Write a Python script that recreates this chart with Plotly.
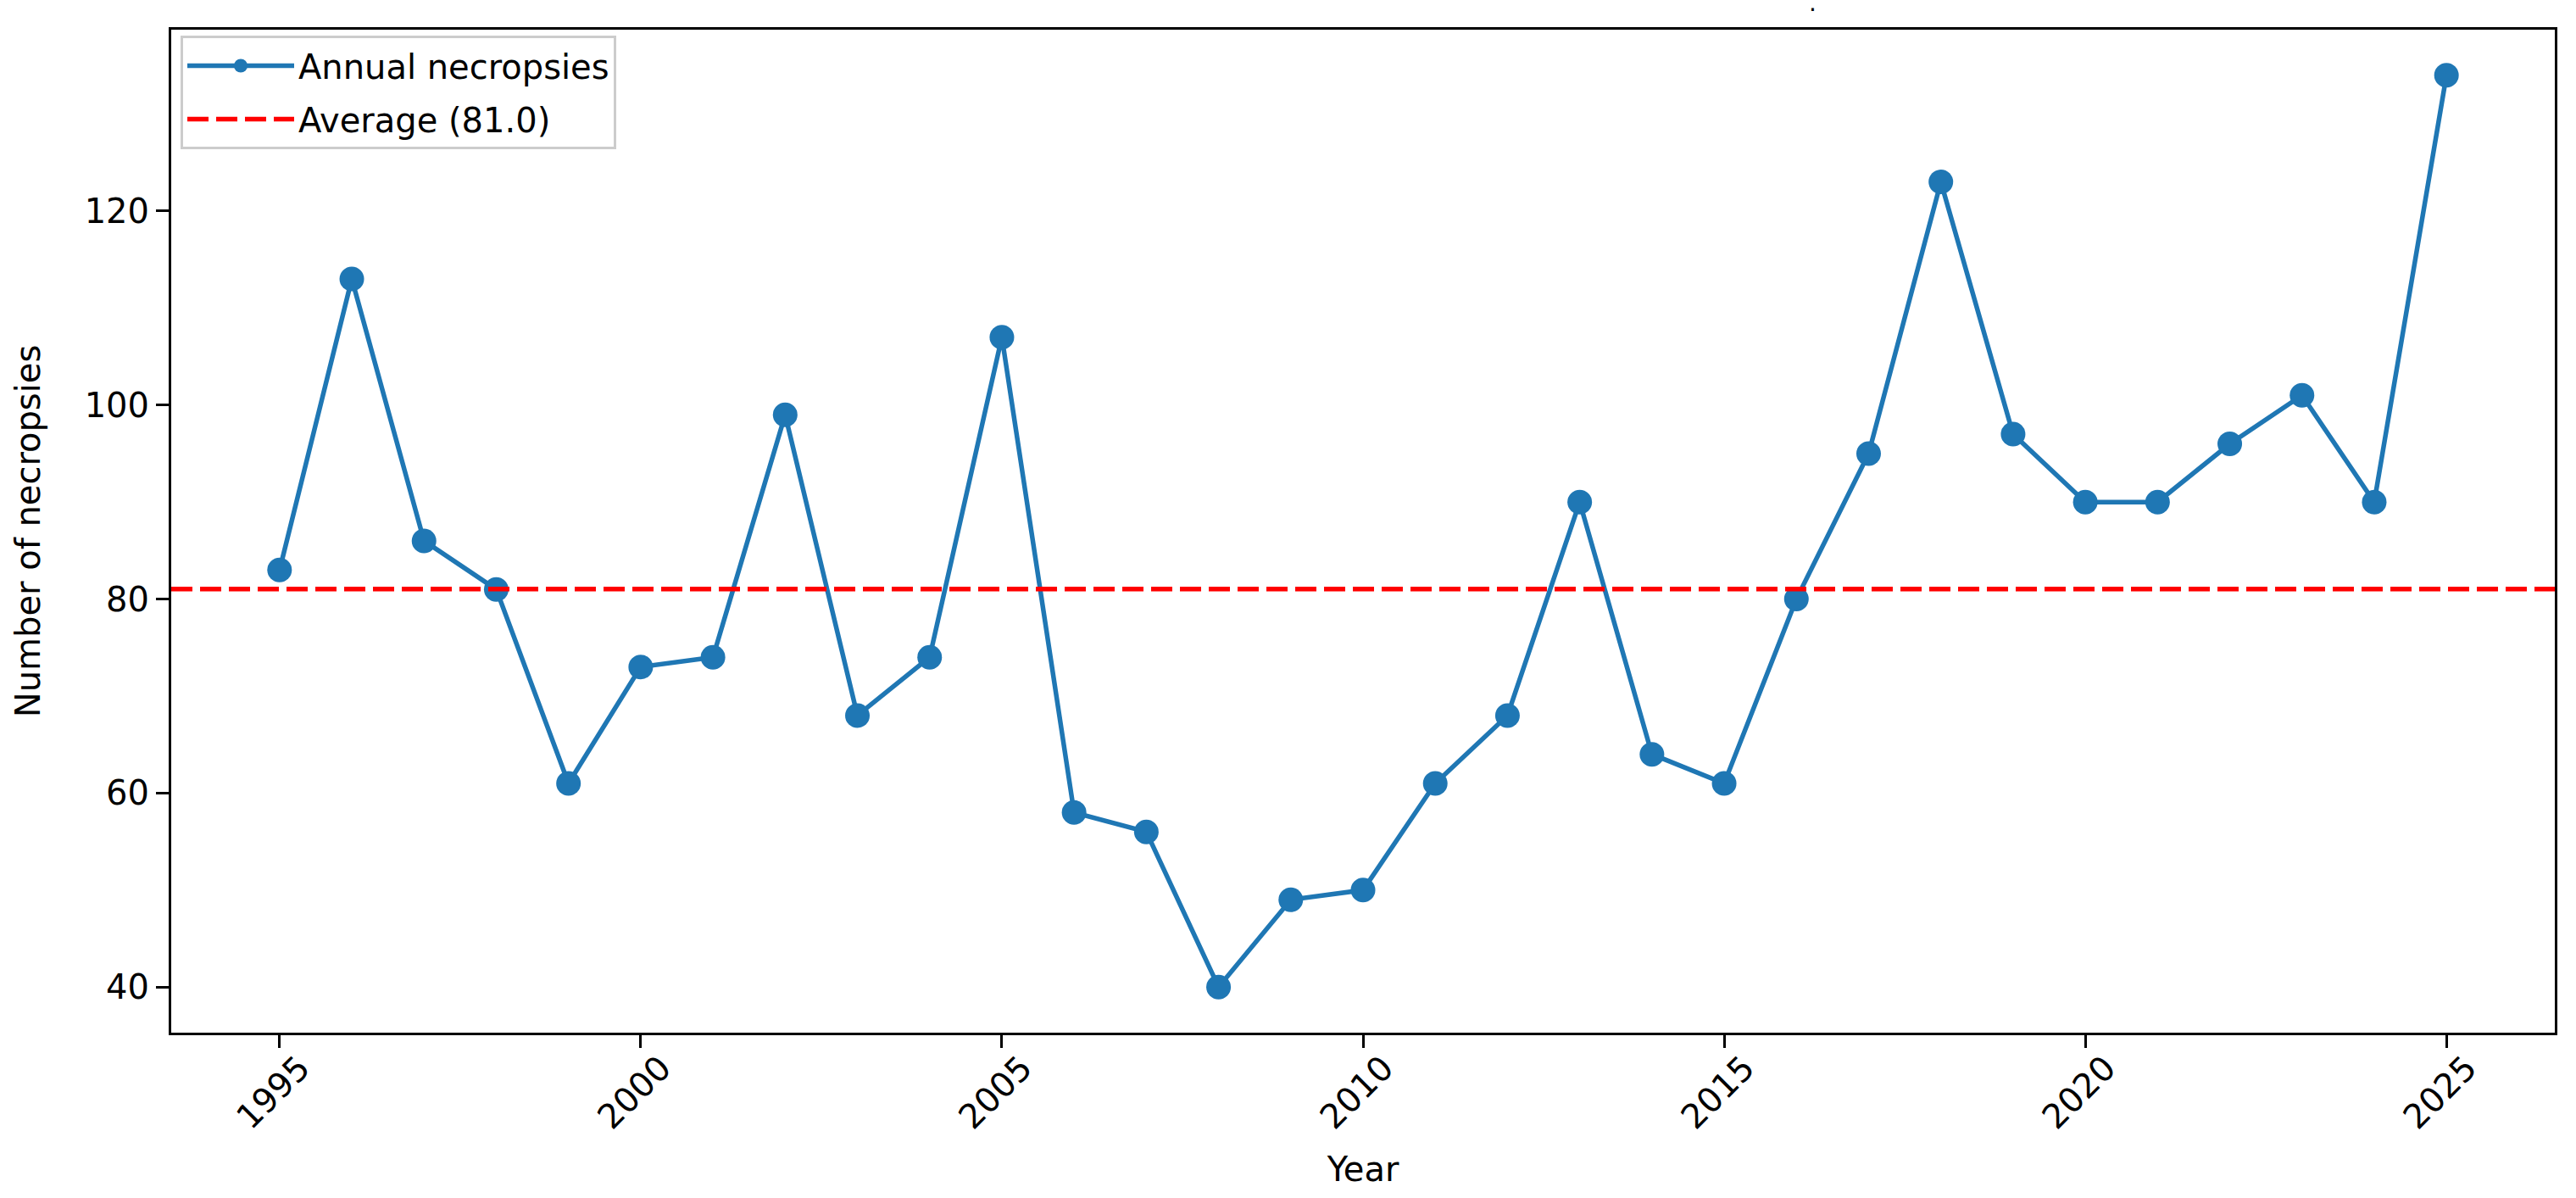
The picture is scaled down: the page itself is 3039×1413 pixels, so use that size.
import plotly.graph_objects as go

years = list(range(1995, 2026))
necropsies = [83, 113, 86, 81, 61, 73, 74, 99, 68, 74, 107, 58, 56, 40, 49, 50,
              61, 68, 90, 64, 61, 80, 95, 123, 97, 90, 90, 96, 101, 90, 134]
y_ticks = [40, 60, 80, 100, 120]
x_ticks = [1995, 2000, 2005, 2010, 2015, 2020, 2025]

average = sum(necropsies) / len(necropsies)

W, H = 3039, 1413
L, R, T, B = 194, 33, 27, 203
FONT = "DejaVu Sans"
FS = 40

fig = go.Figure()
fig.add_trace(go.Scatter(
    x=years, y=necropsies, mode="lines+markers",
    name="Annual necropsies", legendgroup="a",
    line=dict(color="#1f77b4", width=5.5),
    marker=dict(color="#1f77b4", size=29),
))
fig.add_trace(go.Scatter(
    x=[1993.5, 2026.5], y=[average, average], mode="lines",
    name=f"Average ({average:.1f})", legendgroup="b",
    line=dict(color="red", width=5.5, dash="25px,9px"),
))

axis_common = dict(
    showline=True, mirror=True, linecolor="black", linewidth=3,
    ticks="outside", ticklen=15, tickwidth=3, tickcolor="black",
    showgrid=False, zeroline=False,
    tickfont=dict(family=FONT, size=FS, color="black"),
)

fig.update_layout(
    width=W, height=H,
    margin=dict(l=L, r=R, t=T, b=B, autoexpand=False),
    paper_bgcolor="white", plot_bgcolor="white",
    font=dict(family=FONT, size=FS, color="black"),
    xaxis=dict(range=[1993.5, 2026.5], tickvals=x_ticks,
               ticktext=[str(v) for v in x_ticks], tickangle=-45,
               ticklabelshift=24, ticklabelstandoff=-16,
               title=dict(text="Year", font=dict(family=FONT, size=FS, color="black"),
                          standoff=26),
               automargin=False, **axis_common),
    yaxis=dict(range=[35.3, 138.7], tickvals=y_ticks,
               ticktext=[str(v) for v in y_ticks],
               title=dict(text="Number of necropsies", font=dict(family=FONT, size=FS, color="black"),
                          standoff=40),
               automargin=False, **axis_common),
    legend=dict(
        x=(205 - L) / (W - L - R), y=1 - (34 - T) / (H - T - B),
        xanchor="left", yanchor="top",
        bgcolor="rgba(255,255,255,0.8)", bordercolor="#cccccc", borderwidth=3,
        font=dict(family=FONT, size=FS, color="black"),
        itemwidth=126, tracegroupgap=8, traceorder="grouped",
    ),
    showlegend=True,
)

fig.add_annotation(
    text="·", xref="paper", yref="paper",
    x=(2130 - L) / (W - L - R), y=1 + (27 - 4) / (H - T - B),
    xanchor="center", yanchor="middle", showarrow=False,
    font=dict(family=FONT, size=28, color="black"),
)

fig.write_html("out.html")
